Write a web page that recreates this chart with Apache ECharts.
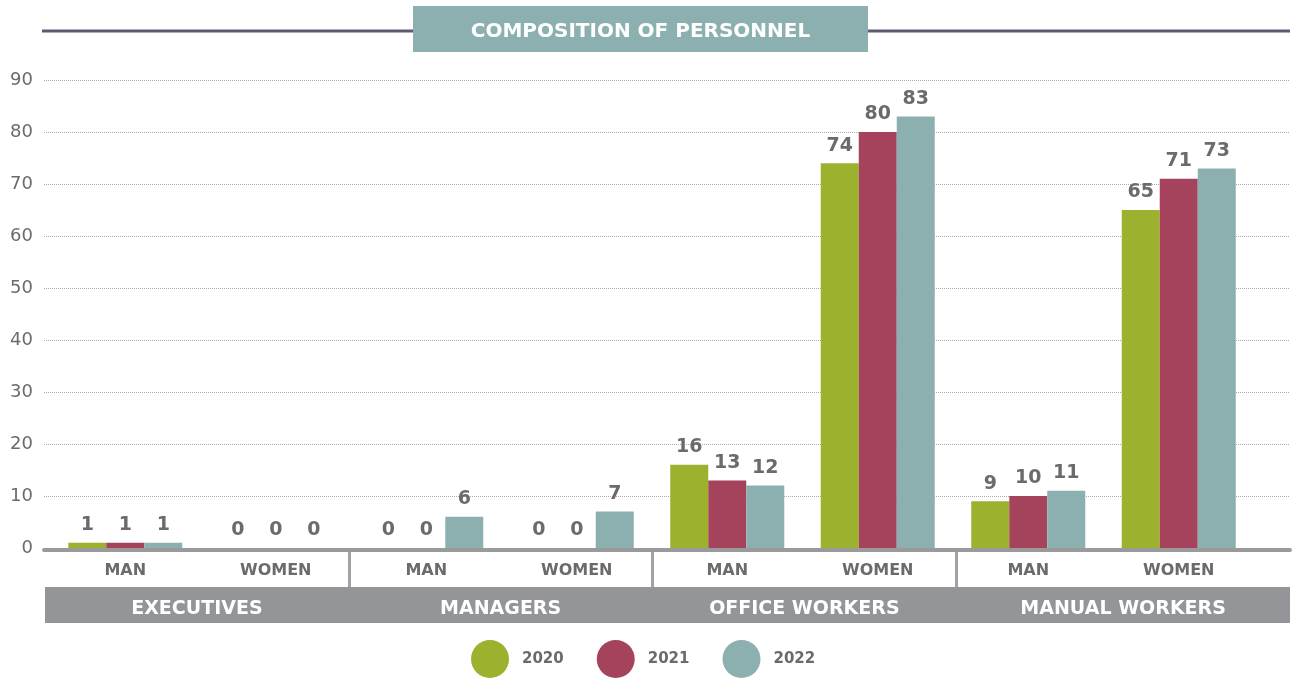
<!DOCTYPE html>
<html>
<head>
<meta charset="utf-8">
<script src="https://cdn.jsdelivr.net/npm/echarts@6/dist/echarts.min.js"></script>
<style>
  html, body { margin: 0; padding: 0; background: #ffffff; }
  #chart { width: 1298px; height: 688px; }
</style>
</head>
<body>
<div id="chart"></div>
<script>
// Staff headcount by role, gender and year
const categories = ['MAN', 'WOMEN', 'MAN', 'WOMEN', 'MAN', 'WOMEN', 'MAN', 'WOMEN'];
const groups = ['EXECUTIVES', 'MANAGERS', 'OFFICE WORKERS', 'MANUAL WORKERS'];
const years = ['2020', '2021', '2022'];
const values2020 = [1, 0, 0, 0, 16, 74, 9, 65];
const values2021 = [1, 0, 0, 0, 13, 80, 10, 71];
const values2022 = [1, 0, 6, 7, 12, 83, 11, 73];
const yMin = 0, yMax = 90, yStep = 10;
const chartTitle = 'COMPOSITION OF PERSONNEL';

const FONT = '"DejaVu Sans", sans-serif';
const TEXT = '#6b6b6e';
const colors = ['#9cb12e', '#a6435c', '#8cb0af'];
const seriesValues = [values2020, values2021, values2022];

const chart = echarts.init(document.getElementById('chart'), null, { renderer: 'canvas' });

const option = {
  animation: false,
  textStyle: { fontFamily: FONT },
  graphic: [
    {
      // rule running across the top, behind the banner
      type: 'line',
      shape: { x1: 42, y1: 31, x2: 1290, y2: 31 },
      style: { stroke: '#5f5a72', lineWidth: 3 },
      z: 1
    },
    {
      // title banner
      type: 'rect',
      shape: { x: 413, y: 6, width: 455, height: 46 },
      style: { fill: '#8cb0af' },
      z: 2
    },
    {
      type: 'text',
      x: 640.5,
      y: 32,
      style: {
        text: chartTitle,
        fill: '#ffffff',
        font: 'bold 20px ' + FONT,
        align: 'center',
        verticalAlign: 'middle'
      },
      z: 3
    }
  ],
  legend: {
    data: years,
    left: 466,
    top: 635,
    icon: 'circle',
    itemWidth: 38,
    itemHeight: 38,
    itemGap: 33,
    textStyle: { color: TEXT, fontFamily: FONT, fontWeight: 'bold', fontSize: 15, padding: [3, 0, 0, 8] }
  },
  grid: [
    // bars
    { left: 50, right: 44, top: 80, bottom: 140 },
    // value gridlines, y labels and base line
    { left: 44, right: 8, top: 80, bottom: 140 },
    // separators between role groups
    { left: 45, right: 38, top: 551, height: 36 },
    // grey band behind role names
    { left: 45, right: 8, top: 587, height: 36, show: true, backgroundColor: '#939598', borderWidth: 0 }
  ],
  xAxis: [
    {
      type: 'category', gridIndex: 0, data: categories, position: 'bottom',
      axisLine: { show: false }, axisTick: { show: false },
      axisLabel: { color: TEXT, fontFamily: FONT, fontWeight: 'bold', fontSize: 16, margin: 15, interval: 0 }
    },
    {
      type: 'value', gridIndex: 1, min: 0, max: 1, position: 'bottom', offset: 2, z: 5,
      axisLine: { show: true, onZero: false, lineStyle: { color: '#9a9a9c', width: 4 } },
      axisTick: { show: false }, axisLabel: { show: false }, splitLine: { show: false }
    },
    {
      type: 'category', gridIndex: 2, data: groups, position: 'bottom',
      axisLine: { show: false }, axisTick: { show: false },
      splitLine: { show: true, showMinLine: false, showMaxLine: false, lineStyle: { color: '#a2a2a5', width: 3 } },
      axisLabel: {
        interval: 0, margin: 13, color: '#ffffff', fontFamily: FONT, fontWeight: 'bold', fontSize: 19,
        formatter: (v, i) => (i === groups.length - 1 ? '{s|' + v + '}' : v),
        rich: { s: { padding: [0, 0, 0, 30], color: '#ffffff', fontFamily: FONT, fontWeight: 'bold', fontSize: 19 } }
      }
    },
    {
      type: 'value', gridIndex: 3, show: false
    }
  ],
  yAxis: [
    { type: 'value', gridIndex: 0, min: yMin, max: yMax, interval: yStep, show: false },
    {
      type: 'value', gridIndex: 1, min: yMin, max: yMax, interval: yStep,
      axisLine: { show: false }, axisTick: { show: false },
      axisLabel: { color: TEXT, fontFamily: FONT, fontSize: 18, margin: 11 },
      splitLine: { show: true, lineStyle: { color: '#ababad', type: [1, 1], width: 1 } }
    },
    { type: 'value', gridIndex: 2, show: false },
    { type: 'value', gridIndex: 3, show: false }
  ],
  series: years.map((y, k) => ({
    name: y,
    type: 'bar',
    xAxisIndex: 0,
    yAxisIndex: 0,
    data: seriesValues[k],
    barWidth: 38,
    barGap: '0%',
    itemStyle: { color: colors[k] },
    label: {
      show: true, position: 'top', distance: 8,
      color: TEXT, fontFamily: FONT, fontWeight: 'bold', fontSize: 19
    },
    z: 3
  })),
  color: colors
};

chart.setOption(option);
</script>
</body>
</html>
